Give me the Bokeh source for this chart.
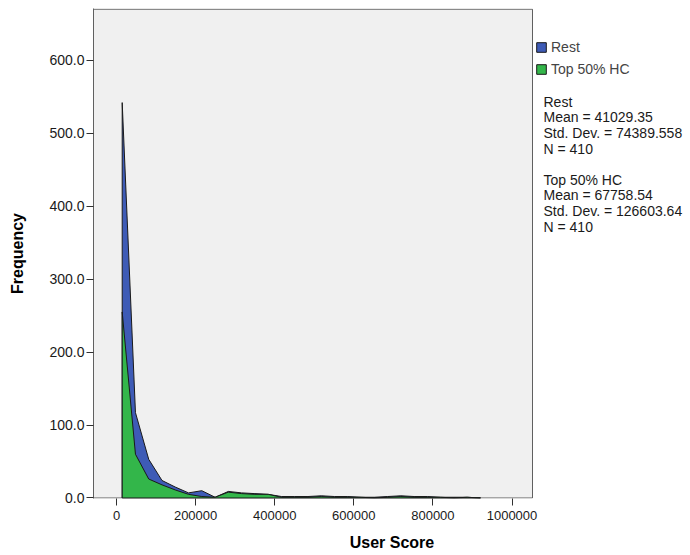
from bokeh.plotting import figure
from bokeh.models import Range1d, FixedTicker, NumeralTickFormatter, Legend, LegendItem, Label
from bokeh.embed import file_html
from bokeh.resources import INLINE

# ---- data ----
bin_mid = [14400, 47950, 81500, 115050, 148600, 182150, 215700, 249250, 282800,
           316350, 349900, 383450, 417000, 450550, 484100, 517650, 551200, 584750,
           618300, 651850, 685400, 718950, 752500, 786050, 819600, 853150, 886700, 920250]
top_hc = [255, 60, 26, 18, 11, 5, 2, 1, 8, 6, 5, 5, 1, 1, 1, 2, 1, 1, 1, 0, 1, 2, 1, 1, 1, 0, 1, 0]
rest = [287, 57, 27, 6, 4, 2, 8, 0, 1, 1, 1, 0, 1, 1, 1, 1, 1, 1, 0, 1, 1, 1, 1, 1, 0, 1, 0, 0]
series_names = ["Rest", "Top 50% HC"]
x_ticks = [0, 200000, 400000, 600000, 800000, 1000000]
y_ticks = [0, 100, 200, 300, 400, 500, 600]
stats_rest = ["Rest", "Mean = 41029.35", "Std. Dev. = 74389.558", "N = 410"]
stats_top = ["Top 50% HC", "Mean = 67758.54", "Std. Dev. = 126603.64", "N = 410"]

# axis extents of the chart area
x_min, x_max = -58154, 1051830
y_min, y_max = 0, 670

FONT = "Liberation Sans"
BLUE = "#3E5BB6"
GREEN = "#33B64A"
EDGE = "#1a1a1a"

p = figure(width=690, height=555, output_backend="svg", toolbar_location=None,
           x_range=Range1d(x_min, 1451300), y_range=Range1d(-0.7, 671),
           min_border_left=93, min_border_right=0, min_border_top=8, min_border_bottom=57)

p.background_fill_color = "white"
p.border_fill_color = "white"
p.outline_line_color = None
p.xgrid.visible = False
p.ygrid.visible = False

# chart area background with its frame
p.quad(left=[x_min], right=[x_max], bottom=[y_min], top=[y_max],
       fill_color="#F0F0F0", line_color="#606060", line_width=1)

total = [a + b for a, b in zip(top_hc, rest)]
xs_poly = [bin_mid[0]] + bin_mid + [bin_mid[-1]]
r_blue = p.patch(xs_poly, [0] + total + [0], fill_color=BLUE, line_color=EDGE, line_width=1)
r_green = p.patch(xs_poly, [0] + top_hc + [0], fill_color=GREEN, line_color=EDGE, line_width=1)

# axes
for ax in (p.xaxis[0], p.yaxis[0]):
    ax.major_tick_out = 7
    ax.major_tick_in = 0
    ax.minor_tick_line_color = None
    ax.major_tick_line_color = "#303030"
    ax.major_label_text_font = FONT
    ax.major_label_text_color = "#1a1a1a"
    ax.axis_label_text_font = FONT
    ax.axis_label_text_font_style = "bold"
    ax.axis_label_text_font_size = "16px"
    ax.axis_label_text_color = "black"

p.xaxis.axis_line_color = None
p.xaxis.ticker = FixedTicker(ticks=x_ticks)
p.xaxis.formatter = NumeralTickFormatter(format="0")
p.xaxis.major_label_text_font_size = "13px"
p.xaxis.major_label_standoff = 5
p.xaxis.axis_label = "User Score"
p.xaxis.axis_label_standoff = 11

p.yaxis.axis_line_color = "#606060"
p.yaxis.ticker = FixedTicker(ticks=y_ticks)
p.yaxis.formatter = NumeralTickFormatter(format="0.0")
p.yaxis.major_label_text_font_size = "14px"
p.yaxis.major_label_standoff = 2
p.yaxis.axis_label = "Frequency"
p.yaxis.axis_label_standoff = 20

legend = Legend(items=[LegendItem(label=series_names[0], renderers=[r_blue]),
                       LegendItem(label=series_names[1], renderers=[r_green])],
                location=(442, 418), padding=0, margin=0, spacing=0,
                glyph_width=12, glyph_height=12, label_height=22, label_standoff=4,
                label_text_font=FONT, label_text_font_size="14px",
                background_fill_alpha=0, border_line_alpha=0)
p.add_layout(legend, "center")

line_pitch = 15.7
for block, y0 in ((stats_rest, 397), (stats_top, 319)):
    for i, txt in enumerate(block):
        p.add_layout(Label(x=450, y=y0 - i * line_pitch, x_units="screen", y_units="screen",
                           text=txt, text_font=FONT, text_font_size="14px",
                           text_baseline="middle", text_color="#1a1a1a"))

open("out.html", "w").write(file_html(p, INLINE))
